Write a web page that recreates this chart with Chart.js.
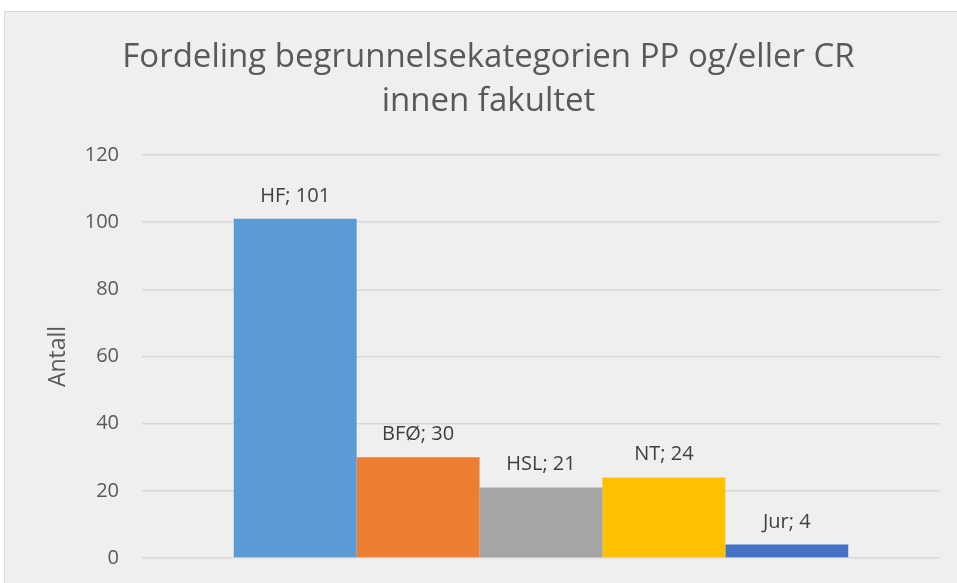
<!DOCTYPE html>
<html lang="no">
<head>
<meta charset="UTF-8">
<title>Fordeling begrunnelsekategorien PP og/eller CR innen fakultet</title>
<script src="https://cdn.jsdelivr.net/npm/chart.js"></script>
<style>
    html, body {
        margin: 0;
        padding: 0;
        background: #ffffff;
        width: 957px;
        height: 583px;
        overflow: hidden;
    }
    .frame {
        position: absolute;
        left: 4px;
        top: 11px;
        width: 980px;
        height: 600px;
        background: #efefef;
        border: 1px solid #d9d9d9;
    }
    #chart {
        position: absolute;
        left: 0;
        top: 0;
    }
</style>
</head>
<body>
<div class="frame"></div>
<canvas id="chart" width="957" height="583"></canvas>

<script>
    const titleLines = ["Fordeling begrunnelsekategorien PP og/eller CR", "innen fakultet"];
    const faculties = ["HF", "BFØ", "HSL", "NT", "Jur"];
    const counts = [101, 30, 21, 24, 4];
    const colors = ["#5b9bd5", "#ed7d31", "#a5a5a5", "#ffc000", "#4472c4"];
    const yTicks = { min: 0, max: 120, step: 20 };

    // etiketter "HF; 101" over hver søyle
    const barLabels = {
        id: "barLabels",
        afterDatasetsDraw(chart) {
            const ctx = chart.ctx;
            ctx.save();
            ctx.font = "20px 'Open Sans'";
            ctx.fillStyle = "#404040";
            ctx.textAlign = "center";
            ctx.textBaseline = "alphabetic";
            chart.data.datasets.forEach((ds, i) => {
                const bar = chart.getDatasetMeta(i).data[0];
                ctx.fillText(ds.label + "; " + ds.data[0], bar.x, bar.y - 17);
            });
            ctx.restore();
        }
    };

    const datasets = faculties.map((f, i) => ({
        label: f,
        data: [counts[i]],
        backgroundColor: colors[i],
        borderWidth: 0,
        barPercentage: 1,
        categoryPercentage: 0.77
    }));

    new Chart(document.getElementById("chart"), {
        type: "bar",
        data: { labels: [""], datasets: datasets },
        plugins: [barLabels],
        options: {
            responsive: false,
            animation: false,
            layout: { padding: { left: 20, right: 0, top: 0, bottom: 25 } },
            plugins: {
                legend: { display: false },
                tooltip: { enabled: false },
                title: {
                    display: true,
                    text: titleLines,
                    color: "#595959",
                    font: { family: "'Open Sans'", size: 33, weight: "normal", lineHeight: 44 / 33 },
                    padding: { top: 36, bottom: 31 }
                }
            },
            scales: {
                x: { display: false },
                y: {
                    min: yTicks.min,
                    max: yTicks.max,
                    ticks: {
                        stepSize: yTicks.step,
                        color: "#595959",
                        font: { family: "'Open Sans'", size: 20 },
                        padding: 23
                    },
                    grid: { color: "#d9d9d9", lineWidth: 1.5, drawTicks: false },
                    border: { display: false },
                    title: {
                        display: true,
                        text: "Antall",
                        color: "#595959",
                        font: { family: "'Open Sans'", size: 23 },
                        padding: { top: 25 }
                    },
                    afterFit(axis) {
                        axis.width = 122;
                        // tick-padding skal ikke krympe plottet nederst
                        axis.paddingTop = 12;
                        axis.paddingBottom = 12;
                    }
                },
                y2: {
                    position: "right",
                    display: true,
                    ticks: { display: false },
                    grid: { display: false },
                    border: { display: false },
                    afterFit(axis) { axis.width = 17; }
                }
            }
        }
    });
</script>
</body>
</html>
